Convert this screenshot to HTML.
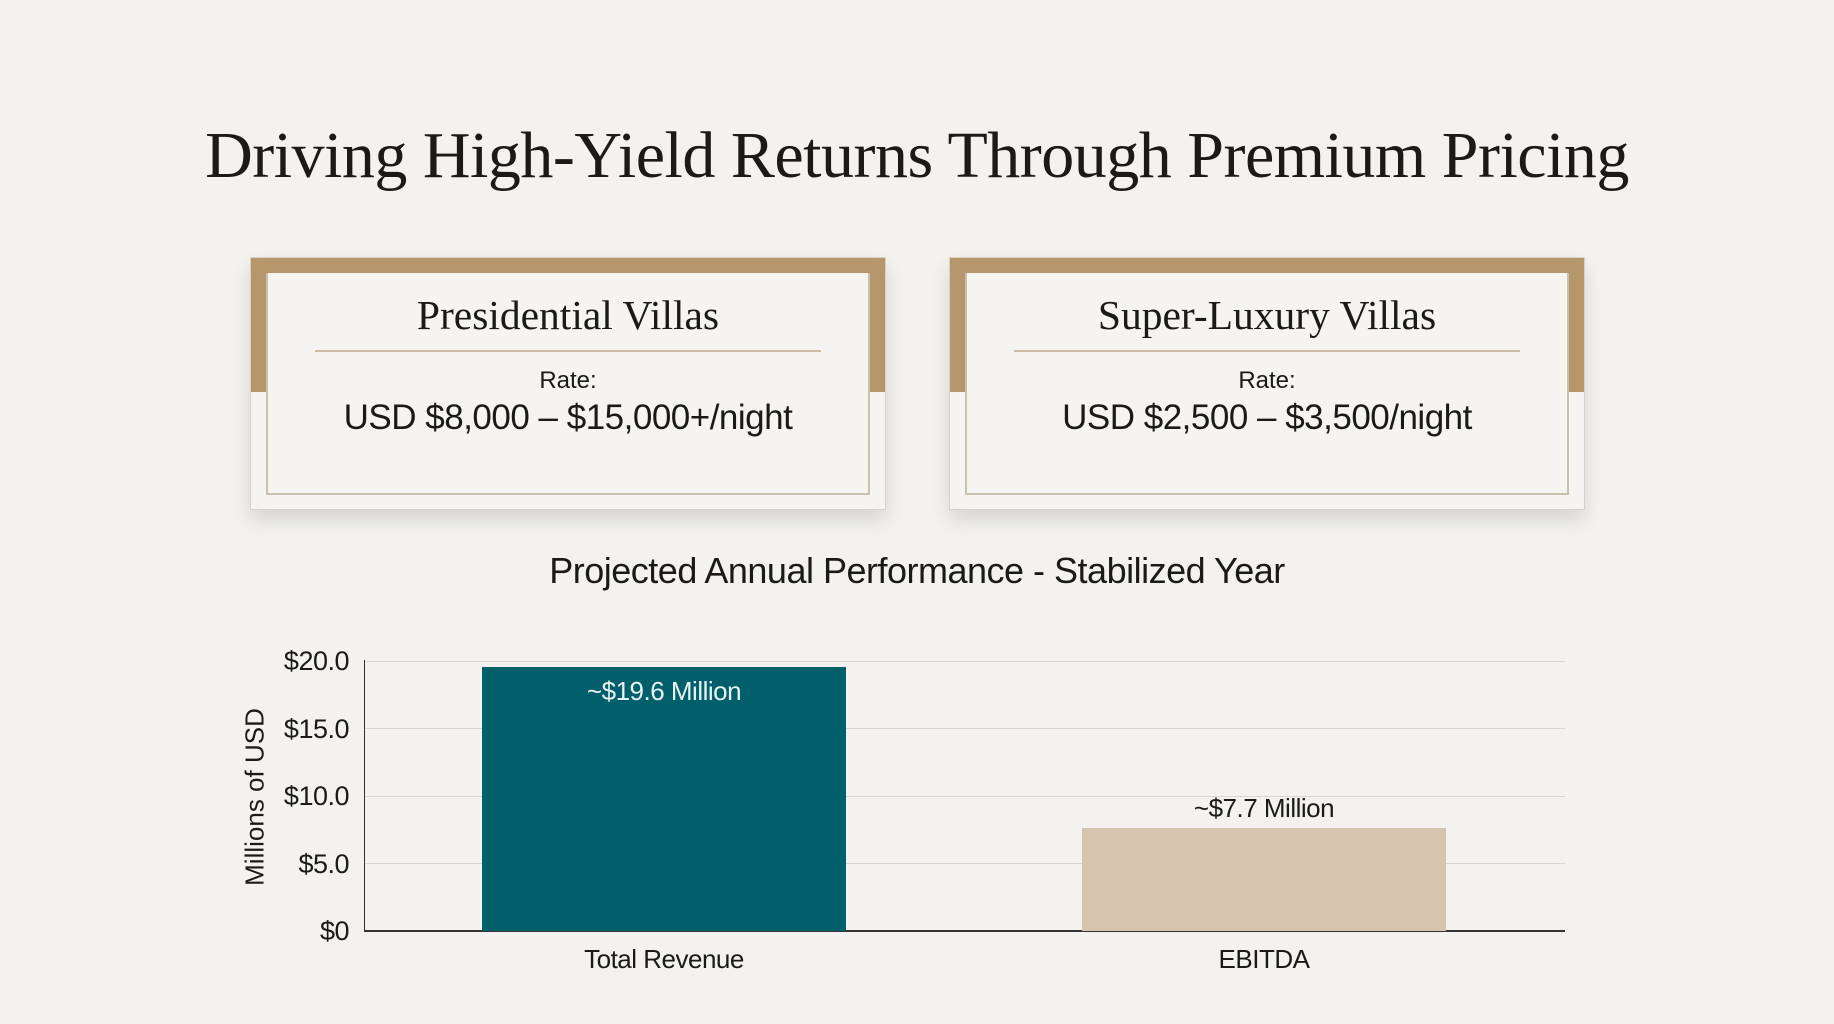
<!DOCTYPE html>
<html><head><meta charset="utf-8"><style>
body{margin:0;width:1834px;height:1024px;background:#f3f2ee;position:relative;overflow:hidden;font-family:"Liberation Sans",sans-serif;color:#1a1a1a}
.t{position:absolute;white-space:nowrap}
.title{left:0;width:1834px;text-align:center;top:118px;font-family:"Liberation Serif",serif;font-size:66px;letter-spacing:-0.5px;color:#1c1a18}
.card{position:absolute;top:257px;width:636px;height:253px;background:linear-gradient(#b5976b 0,#b5976b 134px,#f5f4f0 134px);box-shadow:0 10px 18px rgba(0,0,0,0.12);border:1px solid #d8d2c6;box-sizing:border-box}
.inner{position:absolute;left:15px;top:15px;right:15px;bottom:14px;background:#f5f4f0;border:2px solid #cbbfae;border-top:none}
.ct{position:absolute;left:0;right:0;text-align:center}
.h{top:18px;font-family:"Liberation Serif",serif;font-size:41.5px}
.div{position:absolute;left:47px;right:47px;top:77px;border-top:2px solid #cdbca4}
.r{top:94px;font-size:24px}
.p{top:125px;font-size:35px;letter-spacing:-0.5px}
.grid{position:absolute;left:364px;width:1201px;border-top:1.5px solid #d9d6cf}
.tick{position:absolute;right:1485px;font-size:27px;letter-spacing:-0.5px}
</style></head><body>
<div class="t title">Driving High-Yield Returns Through Premium Pricing</div>

<div class="card" style="left:250px"><div class="inner">
<div class="ct h">Presidential Villas</div><div class="div"></div>
<div class="ct r">Rate:</div><div class="ct p">USD $8,000 – $15,000+/night</div></div></div>
<div class="card" style="left:949px"><div class="inner">
<div class="ct h">Super-Luxury Villas</div><div class="div"></div>
<div class="ct r">Rate:</div><div class="ct p">USD $2,500 – $3,500/night</div></div></div>

<div class="t" style="left:0;width:1834px;text-align:center;top:550px;font-size:36px;letter-spacing:-0.5px">Projected Annual Performance - Stabilized Year</div>

<div class="grid" style="top:661px"></div>
<div class="grid" style="top:728px"></div>
<div class="grid" style="top:796px"></div>
<div class="grid" style="top:863px"></div>
<div style="position:absolute;left:364px;top:660px;height:272px;border-left:1.5px solid #333"></div>
<div style="position:absolute;left:364px;top:930px;width:1201px;border-top:2px solid #333"></div>

<div class="tick" style="top:646px">$20.0</div>
<div class="tick" style="top:714px">$15.0</div>
<div class="tick" style="top:781px">$10.0</div>
<div class="tick" style="top:849px">$5.0</div>
<div class="tick" style="top:916px">$0</div>
<div class="t" style="left:255px;top:797px;font-size:26px;transform:translate(-50%,-50%) rotate(-90deg)">Millions of USD</div>

<div style="position:absolute;left:482px;top:667px;width:364px;height:264px;background:#005f6b"></div>
<div style="position:absolute;left:1082px;top:828px;width:364px;height:103px;background:#d6c4ae"></div>
<div class="t" style="left:482px;width:364px;text-align:center;top:676px;font-size:26px;color:#e8f2f2;letter-spacing:-0.5px">~$19.6 Million</div>
<div class="t" style="left:1082px;width:364px;text-align:center;top:793px;font-size:26px;letter-spacing:-0.5px">~$7.7 Million</div>
<div class="t" style="left:482px;width:364px;text-align:center;top:944px;font-size:26px;letter-spacing:-0.5px">Total Revenue</div>
<div class="t" style="left:1082px;width:364px;text-align:center;top:944px;font-size:26px;letter-spacing:-0.5px">EBITDA</div>
</body></html>
